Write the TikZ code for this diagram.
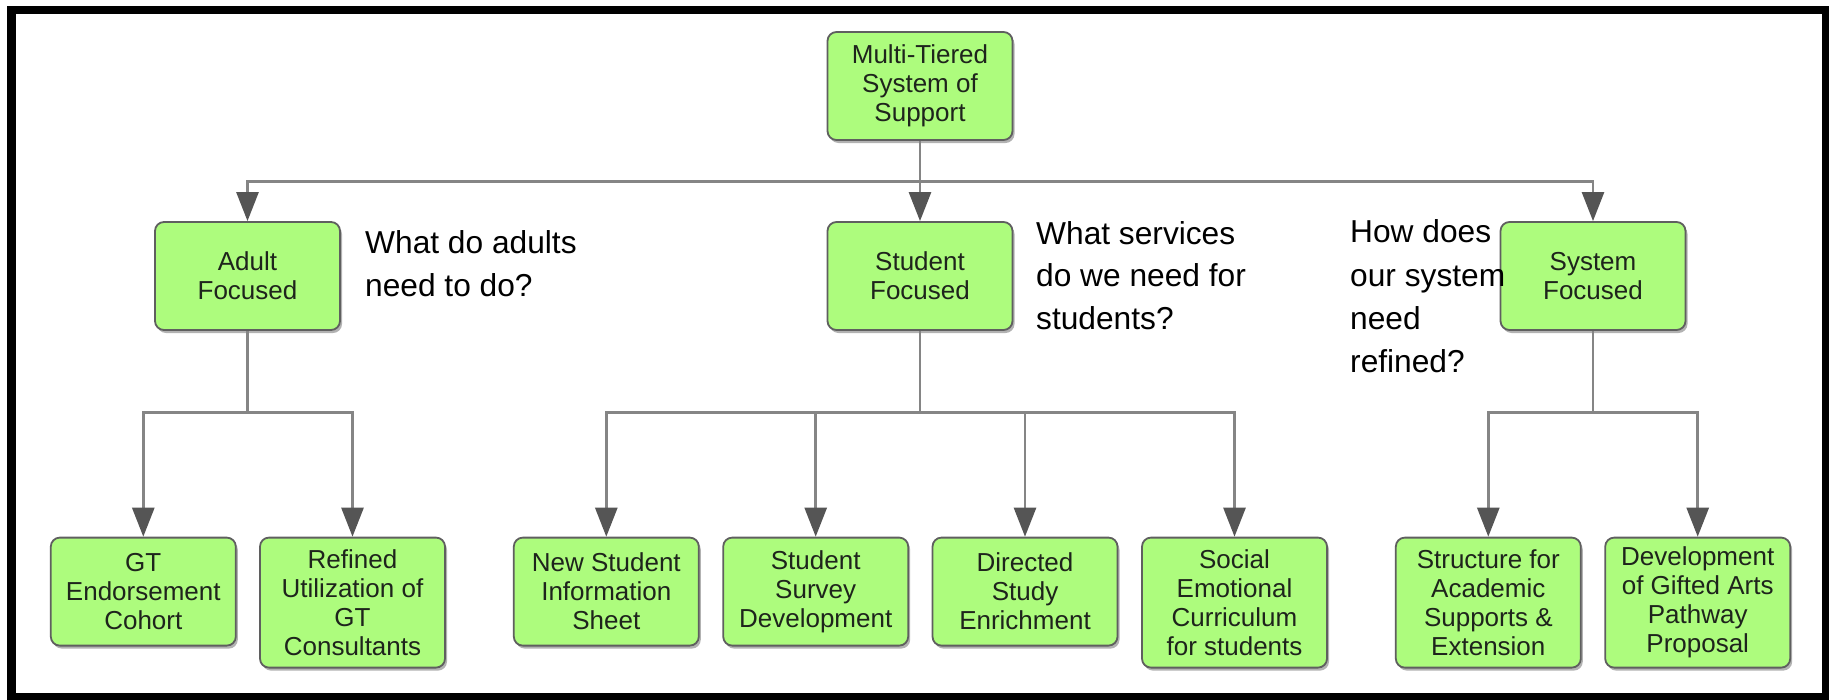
\documentclass[tikz,border=0pt]{standalone}
\usepackage{fontspec}
\setmainfont{Liberation Sans}
\usetikzlibrary{arrows.meta,shadows}
\definecolor{boxfill}{RGB}{173,252,125}
\definecolor{boxline}{RGB}{95,95,95}
\definecolor{connline}{RGB}{133,133,133}
\definecolor{tipgray}{RGB}{85,85,85}
\definecolor{boxtext}{RGB}{30,36,28}
\begin{document}
\begin{tikzpicture}[x=1pt,y=-1pt,
  box/.style={draw=boxline, line width=1.8pt, fill=boxfill, rounded corners=9pt,
    minimum width=185pt, minimum height=108pt, inner sep=0pt, align=center,
    text=boxtext, font=\fontsize{26}{29}\selectfont,
    drop shadow={shadow xshift=2pt,shadow yshift=-3pt,opacity=0.3,fill=black}},
  tall/.style={minimum height=130pt},
  conn/.style={draw=connline, line width=2.6pt},
  arr/.style={conn, -{Triangle[width=22pt,length=29pt,color=tipgray]}},
  qtext/.style={anchor=base west, inner sep=0pt, font=\fontsize{31.7}{43}\selectfont, text=black}]
\useasboundingbox (0,0) rectangle (1829,699);
\fill[white] (0,0) rectangle (1829,699);
\draw[line width=8.5pt] (11.6,10) rectangle (1826,697);

% boxes
\node[box] (mtss) at (920,86) {Multi-Tiered\\System of\\Support};
\node[box] (adult) at (247.5,276) {Adult\\Focused};
\node[box] (student) at (920,276) {Student\\Focused};
\node[box] (system) at (1593,276) {System\\Focused};

\node[box,anchor=north] (gt) at (143.3,536.7) {GT\\Endorsement\\Cohort};
\node[box,tall,anchor=north] (refined) at (352.5,536.7) {Refined\\Utilization of\\GT\\Consultants};
\node[box,anchor=north] (newst) at (606.3,536.7) {New Student\\Information\\Sheet};
\node[box,anchor=north] (survey) at (815.7,536.7) {Student\\Survey\\Development};
\node[box,anchor=north] (directed) at (1025,536.7) {Directed\\Study\\Enrichment};
\node[box,tall,anchor=north] (social) at (1234.5,536.7) {Social\\Emotional\\Curriculum\\for students};
\node[box,tall,anchor=north] (structure) at (1488.3,536.7) {Structure for\\Academic\\Supports \&\\Extension};
\node[box,tall,anchor=north] (gifted) at (1697.7,536.7) {Development\\of Gifted Arts\\Pathway\\Proposal};

% connectors
\coordinate (h0) at (920,181.7);
\coordinate (ha) at (247.5,412.3);
\coordinate (hs) at (920,412.3);
\coordinate (hy) at (1593,412.3);

\draw[conn] (mtss.south) -- (h0);
\draw[arr] (h0) -| (adult.north);
\draw[arr] (h0) -- (student.north);
\draw[arr] (h0) -| (system.north);

\draw[conn] (adult.south) -- (ha);
\draw[arr] (ha) -| (gt.north);
\draw[arr] (ha) -| (refined.north);

\draw[conn] (student.south) -- (hs);
\draw[arr] (hs) -| (newst.north);
\draw[arr] (hs) -| (survey.north);
\draw[arr] (hs) -| (directed.north);
\draw[arr] (hs) -| (social.north);

\draw[conn] (system.south) -- (hy);
\draw[arr] (hy) -| (structure.north);
\draw[arr] (hy) -| (gifted.north);

% questions
\node[qtext] (qa1) at (365,253.3) {What do adults};
\node[qtext] (qa2) at (365,296.7) {need to do?};
\node[qtext] (qs1) at (1036,244) {What services};
\node[qtext] (qs2) at (1036,286.7) {do we need for};
\node[qtext] (qs3) at (1036,329.3) {students?};
\node[qtext] (qy1) at (1350,242.7) {How does};
\node[qtext] (qy2) at (1350,286.7) {our system};
\node[qtext] (qy3) at (1350,329.3) {need};
\node[qtext] (qy4) at (1350,372.7) {refined?};
\end{tikzpicture}
\end{document}
